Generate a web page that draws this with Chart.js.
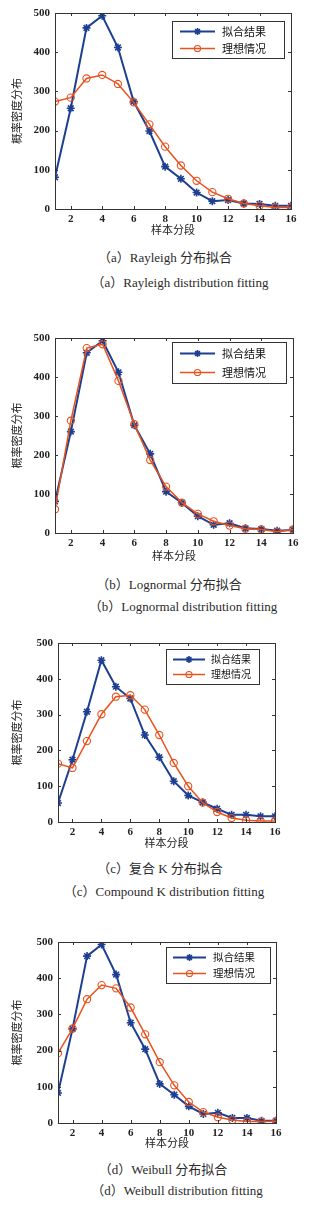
<!DOCTYPE html>
<html><head><meta charset="utf-8">
<script src="https://cdn.jsdelivr.net/npm/chart.js@4"></script>
<style>
html,body{margin:0;padding:0;background:#fff;width:321px;height:1205px;overflow:hidden;}
#wrap{position:relative;width:321px;height:1205px;}
canvas{position:absolute;left:0;}
.cap{position:absolute;white-space:nowrap;color:#2a2a2a;font-family:"Liberation Serif","Noto Sans CJK SC",serif;transform:translateX(-50%);line-height:16px;}
</style></head><body><div id="wrap"></div>
<script>
// ---- data ----
const bins = [1,2,3,4,5,6,7,8,9,10,11,12,13,14,15,16];
const xTicks = [2,4,6,8,10,12,14,16];
const yTicks = [0,100,200,300,400,500];
const seriesNames = ['拟合结果','理想情况'];
const xTitle = '样本分段';
const yTitle = '概率密度分布';

const fitRayleigh   = [81,257,462,493,412,274,199,108,77,42,20,23,14,13,8,8];
const idealRayleigh = [274,284,333,342,319,272,216,159,111,72,43,26,14,8,4,4];

const fitLognormal   = [81,260,462,493,412,276,203,106,77,43,21,25,12,10,6,8];
const idealLognormal = [61,288,474,484,390,279,187,119,78,49,30,19,11,9,3,9];

const fitK   = [53,174,308,452,378,345,243,181,114,74,55,37,20,20,16,16];
const idealK = [163,151,226,301,350,354,314,243,165,100,54,28,11,5,3,3];

const fitWeibull   = [83,260,461,493,410,277,204,108,78,46,25,28,14,14,6,6];
const idealWeibull = [193,261,342,381,372,319,245,168,104,58,30,16,8,4,4,5];

const captionsCn = ['（a）Rayleigh 分布拟合','（b）Lognormal 分布拟合','（c）复合 K 分布拟合','（d）Weibull 分布拟合'];
const captionsEn = ['（a）Rayleigh distribution fitting','（b）Lognormal distribution fitting','（c）Compound K distribution fitting','（d）Weibull distribution fitting'];

// ---- layout ----
const panels = [
  {fit:fitRayleigh, ideal:idealRayleigh, plot:{l:55,r:291,t:13,b:209}, xtp:7, leg:{l:172,t:21,w:112,h:37,fs:11,ls:8,le:43,tx:50}, cap:[[165,258],[180,283]]},
  {fit:fitLognormal, ideal:idealLognormal, plot:{l:55,r:293,t:338,b:533}, xtp:5, leg:{l:172,t:342,w:114,h:41,fs:11,ls:8,le:43,tx:50}, cap:[[169,585],[183,607]]},
  {fit:fitK, ideal:idealK, plot:{l:58,r:275,t:643,b:822}, xtp:7, leg:{l:166,t:649,w:93,h:35,fs:10,ls:7,le:39,tx:45}, cap:[[160,869],[164,892]]},
  {fit:fitWeibull, ideal:idealWeibull, plot:{l:58,r:276,t:942,b:1123}, xtp:8, leg:{l:166,t:947,w:104,h:36,fs:10.5,ls:7,le:40,tx:47}, cap:[[163,1170],[177,1191]]}
];
const BLUE = '#1d3f92', ORANGE = '#e9521d';
const TOP_PAD = 14, BOTTOM_H = 34;
const serif = '"Liberation Serif", "DejaVu Serif", serif';
const cjk = '"Noto Sans CJK SC", sans-serif';

const boxPlugin = {
  id:'box',
  afterDraw(chart){
    const ctx = chart.ctx, a = chart.chartArea, o = chart.options.plugins.box;
    const xs = chart.scales.x, ys = chart.scales.y;
    ctx.save();
    ctx.strokeStyle = '#333'; ctx.lineWidth = 1;
    ctx.strokeRect(Math.round(a.left)+0.5, Math.round(a.top)+0.5, Math.round(a.right-a.left), Math.round(a.bottom-a.top));
    const tl = 3;
    ctx.beginPath();
    xs.ticks.forEach(t=>{ const px = Math.round(xs.getPixelForValue(t.value))+0.5;
      ctx.moveTo(px,a.bottom); ctx.lineTo(px,a.bottom-tl); ctx.moveTo(px,a.top); ctx.lineTo(px,a.top+tl); });
    ys.ticks.forEach(t=>{ const py = Math.round(ys.getPixelForValue(t.value))+0.5;
      ctx.moveTo(a.left,py); ctx.lineTo(a.left+tl,py); ctx.moveTo(a.right,py); ctx.lineTo(a.right-tl,py); });
    ctx.stroke();
    // legend
    const L = o.leg, off = o.offsetTop;
    const lx = L.l, ly = L.t - off;
    ctx.fillStyle = '#fff';
    ctx.fillRect(lx, ly, L.w, L.h);
    ctx.strokeStyle = '#333'; ctx.lineWidth = 1;
    ctx.strokeRect(lx+0.5, ly+0.5, L.w, L.h);
    const rows = [ly + L.h*0.28, ly + L.h*0.72];
    chart.data.datasets.forEach((ds,i)=>{
      const y = Math.round(rows[i])+0.5;
      ctx.strokeStyle = ds.borderColor; ctx.lineWidth = ds.borderWidth;
      ctx.beginPath(); ctx.moveTo(lx+L.ls,y); ctx.lineTo(lx+L.le,y); ctx.stroke();
      ctx.fillStyle = ds.pointBackgroundColor;
      ctx.lineWidth = ds.pointBorderWidth;
      Chart.helpers.drawPoint(ctx, {pointStyle: ds.pointStyle, radius: ds.pointRadius*0.85, borderWidth: ds.pointBorderWidth, rotation:0}, lx+(L.ls+L.le)/2, y);
      ctx.fillStyle = '#111';
      ctx.font = L.fs + 'px ' + cjk;
      ctx.textBaseline = 'middle'; ctx.textAlign = 'left';
      ctx.fillText(seriesNames[i], lx+L.tx, y);
    });
    ctx.restore();
  }
};

const wrap = document.getElementById('wrap');
panels.forEach((p, idx)=>{
  const cv = document.createElement('canvas');
  const top = p.plot.t - TOP_PAD;
  const h = p.plot.b - p.plot.t + TOP_PAD + BOTTOM_H;
  cv.width = 321; cv.height = h;
  cv.style.top = top + 'px'; cv.style.width = '321px'; cv.style.height = h + 'px';
  wrap.appendChild(cv);
  new Chart(cv, {
    type:'line',
    data:{ datasets:[
      {label:seriesNames[0], data:bins.map((x,i)=>({x, y:p.fit[i]})), borderColor:BLUE, backgroundColor:BLUE,
       borderWidth:2, pointStyle:'star', pointRadius:4, pointBorderWidth:1.6, pointBorderColor:BLUE, pointBackgroundColor:BLUE, order:1, tension:0},
      {label:seriesNames[1], data:bins.map((x,i)=>({x, y:p.ideal[i]})), borderColor:ORANGE, backgroundColor:'rgba(0,0,0,0)',
       borderWidth:1.5, pointStyle:'circle', pointRadius:3.6, pointBorderWidth:1.1, pointBorderColor:ORANGE, pointBackgroundColor:'rgba(0,0,0,0)', order:0, tension:0}
    ]},
    options:{
      responsive:false, animation:false, devicePixelRatio:1,
      layout:{padding:{left:0, right:321 - p.plot.r, top:TOP_PAD, bottom:0}},
      plugins:{legend:{display:false}, tooltip:{enabled:false},
        box:{leg:p.leg, offsetTop:top}},
      scales:{
        x:{type:'linear', min:1, max:16,
          afterBuildTicks:s=>{ s.ticks = xTicks.map(v=>({value:v})); },
          afterFit:s=>{ s.height = BOTTOM_H; },
          grid:{display:false, drawTicks:false}, border:{display:false},
          ticks:{padding:4, autoSkip:false, maxRotation:0, color:'#222', font:{family:serif, size:11, weight:'bold'}},
          title:{display:true, text:xTitle, color:'#222', font:{family:cjk, size:11}, padding:{top:0, bottom:p.xtp}}
        },
        y:{type:'linear', min:0, max:500,
          afterBuildTicks:s=>{ s.ticks = yTicks.map(v=>({value:v})); },
          afterFit:s=>{ s.width = p.plot.l; },
          grid:{display:false, drawTicks:false}, border:{display:false},
          ticks:{padding:5, color:'#222', font:{family:serif, size:11, weight:'bold'}},
          title:{display:true, text:yTitle, color:'#222', font:{family:cjk, size:11}, padding:{top:10, bottom:0}}
        }
      }
    },
    plugins:[boxPlugin]
  });
  [[captionsCn[idx],13],[captionsEn[idx],13]].forEach(([txt,fs],k)=>{
    const d = document.createElement('div');
    d.className = 'cap';
    d.textContent = txt;
    d.style.fontSize = fs + 'px';
    d.style.left = p.cap[k][0] + 'px';
    d.style.top = (p.cap[k][1] - 8) + 'px';
    wrap.appendChild(d);
  });
});
</script>
</body></html>
